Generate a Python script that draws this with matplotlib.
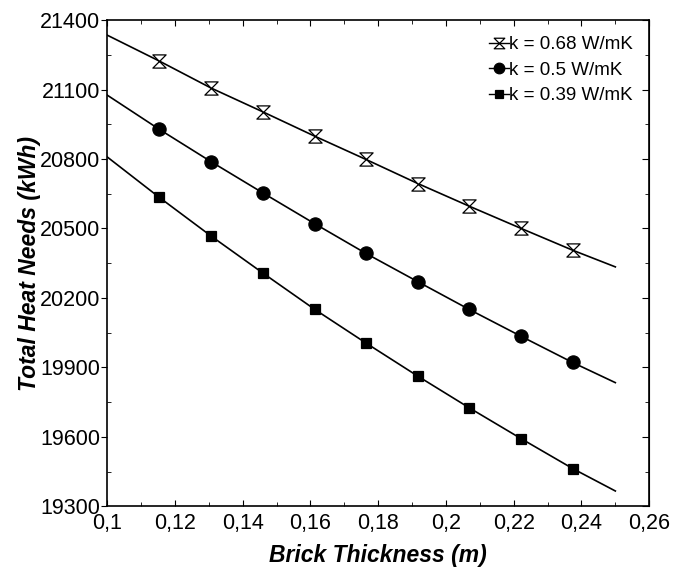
import numpy as np
import matplotlib
matplotlib.use("Agg")
import matplotlib.pyplot as plt
from matplotlib.path import Path
from matplotlib.ticker import MultipleLocator, FixedLocator, FuncFormatter

plt.rcParams["font.family"] = ["Liberation Sans", "DejaVu Sans"]

# brick thickness (m) at the markers
thickness = [0.1154, 0.1306, 0.1459, 0.1612, 0.1764, 0.1917, 0.2069, 0.2222, 0.2374]

# total heat needs (kWh) read at the markers
heat_068 = [21223, 21107, 21004, 20899, 20798, 20694, 20596, 20500, 20406]
heat_050 = [20928, 20789, 20654, 20521, 20392, 20270, 20150, 20034, 19921]
heat_039 = [20634, 20468, 20308, 20151, 20005, 19862, 19725, 19592, 19463]

# fitted curve ends (x = 0.1 and x = 0.25)
curve_x_ends = [0.1, 0.25]
curve_068_ends = [21335, 20334]
curve_050_ends = [21076, 19834]
curve_039_ends = [20809, 19366]

labels = ["k = 0.68 W/mK", "k = 0.5 W/mK", "k = 0.39 W/mK"]

y_major = [19300, 19600, 19900, 20200, 20500, 20800, 21100, 21400]
y_minor = [19450, 19750, 20050, 20350, 20650, 20950, 21250]

# hourglass marker
hourglass = Path([(-1, 1), (1, 1), (-1, -1), (1, -1), (-1, 1)],
                 [Path.MOVETO, Path.LINETO, Path.LINETO, Path.LINETO, Path.CLOSEPOLY])

fig = plt.figure(figsize=(6.87, 5.74), dpi=100)
ax = fig.add_axes([0.156, 0.118, 0.789, 0.847])

series = [
    (heat_068, curve_068_ends, dict(marker=hourglass, markersize=9.5, markerfacecolor="white")),
    (heat_050, curve_050_ends, dict(marker="o", markersize=9.5, markerfacecolor="black")),
    (heat_039, curve_039_ends, dict(marker="s", markersize=6.5, markerfacecolor="black")),
]

for (vals, ends, mstyle), lab in zip(series, labels):
    cx = [curve_x_ends[0]] + thickness + [curve_x_ends[1]]
    cy = [ends[0]] + vals + [ends[1]]
    ax.plot(cx, cy, color="black", lw=1.2)
    ax.plot(thickness, vals, linestyle="none", color="black",
            markeredgecolor="black", markeredgewidth=0.9, **mstyle)
    # legend proxy
    ax.plot([], [], color="black", lw=1.0, markeredgecolor="black",
            markeredgewidth=0.9, label=lab, **mstyle)

ax.set_xlim(0.1, 0.26)
ax.set_ylim(19300, 21400)

ax.xaxis.set_major_locator(MultipleLocator(0.02))
ax.xaxis.set_minor_locator(MultipleLocator(0.01))
ax.yaxis.set_major_locator(FixedLocator(y_major))
ax.yaxis.set_minor_locator(FixedLocator(y_minor))

comma = FuncFormatter(lambda v, p: f"{v:g}".replace(".", ","))
ax.xaxis.set_major_formatter(comma)

ax.tick_params(axis="x", which="both", direction="in", top=True, labelsize=15.5, pad=5)
ax.tick_params(axis="x", which="major", length=4)
ax.tick_params(axis="x", which="minor", length=3)
ax.tick_params(axis="y", which="major", direction="out", length=4, labelsize=15.5, pad=1)
ax.tick_params(axis="y", which="minor", direction="in", length=3)

sec = ax.secondary_yaxis("right")
sec.yaxis.set_major_locator(FixedLocator(y_major))
sec.yaxis.set_minor_locator(FixedLocator(y_minor))
sec.tick_params(which="both", direction="in", labelright=False)
sec.tick_params(which="major", length=5)
sec.tick_params(which="minor", length=3)

for sp in ax.spines.values():
    sp.set_linewidth(1.2)

ax.set_xlabel("Brick Thickness (m)", fontsize=16.5, fontweight="bold", fontstyle="italic", labelpad=7)
ax.set_ylabel("Total Heat Needs (kWh)", fontsize=16.5, fontweight="bold", fontstyle="italic", labelpad=-1)

leg = ax.legend(loc="upper right", frameon=False, fontsize=13.5, handlelength=1.1,
                handletextpad=0.0, labelspacing=0.45, borderaxespad=0.45,
                markerscale=0.8)

fig.savefig("out.png", dpi=100)
